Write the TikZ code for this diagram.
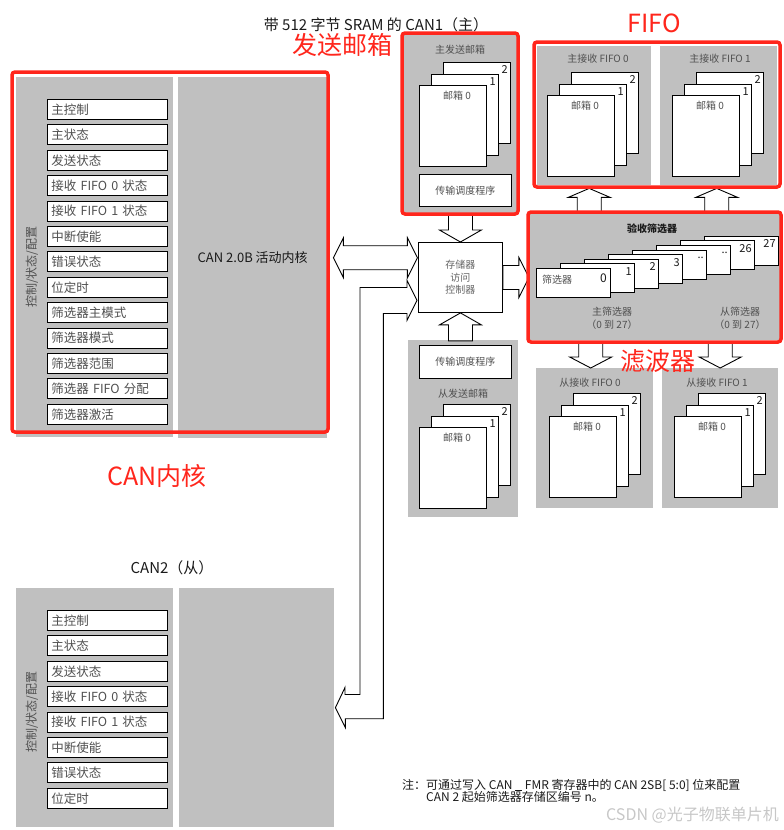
\documentclass[tikz,border=0pt]{standalone}
\usepackage{fontspec}
\setmainfont{Noto Sans CJK SC}
\usetikzlibrary{calc}
\definecolor{panelgray}{RGB}{192,192,192}
\definecolor{markred}{RGB}{255,38,28}
\definecolor{labelgray}{RGB}{80,80,80}
\definecolor{inkblack}{RGB}{26,26,26}
\newcommand{\fsz}[2]{\fontsize{#1}{#2}\selectfont}

\begin{document}
\begin{tikzpicture}[x=1pt, y=-1pt,
    panel/.style={fill=panelgray, anchor=north west, inner sep=0pt},
    reg/.style={draw, line width=0.9pt, fill=white, anchor=north west, text width=112pt, inner xsep=4pt, inner ysep=0pt, minimum height=20pt, align=left, text=labelgray, font=\fsz{12.5}{13}},
    mbox/.style={draw, line width=0.9pt, fill=white, anchor=north west, minimum width=67pt, minimum height=81pt, inner sep=0pt},
    card/.style={draw, line width=0.9pt, fill=white, anchor=north west, minimum width=74pt, minimum height=29pt, inner sep=0pt},
    hollow/.style={draw, line width=0.9pt, fill=white, line join=miter},
    redframe/.style={draw=markred, line width=3.5pt, rounded corners=3pt},
    redlabel/.style={text=markred, font=\fsz{25}{28}},
    lbl/.style={font=\fsz{10}{13}, text=labelgray, inner sep=1pt},
    digit/.style={font=\fsz{11}{12}, text=inkblack, anchor=east, inner sep=0pt}]
    \useasboundingbox (0,0) rectangle (784,830);

    % CAN1 (master)
    \node[font=\fsz{15}{16}, text=inkblack] (c1title) at (376,25) {带 512 字节 SRAM 的 CAN1（主）};
    \node[panel, minimum width=157pt, minimum height=360pt] (c1ctl) at (16,77) {};
    \node[panel, minimum width=149pt, minimum height=361pt, font=\fsz{13}{14}, text=inkblack] (c1core) at (178,77) {CAN 2.0B 活动内核};
    \node[rotate=90, font=\fsz{12}{13}, text=labelgray] (c1side) at (32,267) {控制/状态/配置};
    \foreach \t [count=\i from 0] in {主控制, 主状态, 发送状态, 接收 FIFO 0 状态, 接收 FIFO 1 状态, 中断使能, 错误状态, 位定时, 筛选器主模式, 筛选器模式, 筛选器范围, 筛选器 FIFO 分配, 筛选器激活}
        \node[reg] (c1r\i) at (47,{99+25.4*\i}) {\t};

    % mailbox and fifo panels
    \node[panel, minimum width=113pt, minimum height=178pt] (tmp) at (404,35) {};
    \node[lbl] (tmtitle) at (460,50) {主发送邮箱};
    \node[draw, line width=0.9pt, fill=white, anchor=north west, minimum width=92pt, minimum height=32pt, lbl] (tmsch) at (419,174) {传输调度程序};
    \node[panel, minimum width=114pt, minimum height=139pt] (rfp0) at (537,46) {};
    \node[panel, minimum width=117pt, minimum height=139pt] (rfp1) at (660,46) {};
    \node[lbl] (rf0title) at (598,59) {主接收 FIFO 0};
    \node[lbl] (rf1title) at (720,59) {主接收 FIFO 1};
    \node[panel, minimum width=110pt, minimum height=177pt] (tsp) at (408,340) {};
    \node[draw, line width=0.9pt, fill=white, anchor=north west, minimum width=92pt, minimum height=33pt, lbl] (tssch) at (419,345) {传输调度程序};
    \node[lbl] (tstitle) at (463,394) {从发送邮箱};
    \node[panel, minimum width=117pt, minimum height=140pt] (rsp0) at (536,368) {};
    \node[panel, minimum width=116pt, minimum height=140pt] (rsp1) at (662,368) {};
    \node[lbl] (rs0title) at (590,383) {从接收 FIFO 0};
    \node[lbl] (rs1title) at (717,383) {从接收 FIFO 1};

    \foreach \nm/\x/\y in {tm/419/85, rf0/547/95, rf1/672/95, ts/419/427, rs0/549/416, rs1/674/416} {
        \node[mbox] (\nm-b2) at ({\x+24},{\y-23}) {};
        \node[digit] at ([xshift=-3pt,yshift=-8pt]\nm-b2.north east) {2};
        \node[mbox] (\nm-b1) at ({\x+12},{\y-11}) {};
        \node[digit] at ([xshift=-3pt,yshift=-8pt]\nm-b1.north east) {1};
        \node[mbox] (\nm-b0) at (\x,\y) {};
        \node[lbl] at ([xshift=4pt,yshift=-11pt]\nm-b0.north) {邮箱 0};
    }

    % acceptance filter
    \node[panel, minimum width=250pt, minimum height=126pt] (filt) at (530,214) {};
    \node[font=\bfseries\fsz{10}{12}, text=inkblack] (filttitle) at (652,229) {验收筛选器};
    \foreach \i/\v in {7/27, 6/26, 5/.., 4/.., 3/3, 2/2, 1/1} {
        \node[card] (fc\i) at ({536+24*\i},{268-4.6*\i}) {};
        \node[digit] at ([xshift=-3pt,yshift=-8pt]fc\i.north east) {\v};
    }
    \node[card] (fc0) at (536,268) {};
    \node[lbl, anchor=west] at ([xshift=5pt,yshift=3pt]fc0.west) {筛选器};
    \node[digit, font=\fsz{12}{13}] at ([xshift=-4pt,yshift=-10pt]fc0.north east) {0};
    \node[lbl, align=center] (mfilt) at (612,318) {主筛选器\\（0 到 27）};
    \node[lbl, align=center] (sfilt) at (740,318) {从筛选器\\（0 到 27）};

    % memory access controller
    \node[draw, line width=0.9pt, fill=white, anchor=north west, minimum width=84pt, minimum height=70pt, align=center, font=\fsz{10}{12.5}, text=gray!80!black] (mac) at (418,242) {存储器\\访问\\控制器};

    % CAN2 (slave)
    \node[font=\fsz{15}{16}, text=inkblack] (c2title) at (172,568) {CAN2（从）};
    \node[panel, minimum width=157pt, minimum height=239pt] (c2ctl) at (16,588) {};
    \node[panel, minimum width=155pt, minimum height=239pt] (c2core) at (179,588) {};
    \node[rotate=90, font=\fsz{12}{13}, text=labelgray] (c2side) at (32,712) {控制/状态/配置};
    \foreach \t [count=\i from 0] in {主控制, 主状态, 发送状态, 接收 FIFO 0 状态, 接收 FIFO 1 状态, 中断使能, 错误状态, 位定时}
        \node[reg] (c2r\i) at (47,{610+25.4*\i}) {\t};

    % hollow arrows
    \draw[hollow] (mac.north) -- ++(21,-12) -- ++(-9,0) -- ++(0,-16) -- ++(-24,0) -- ++(0,16) -- ++(-9,0) -- cycle;
    \draw[hollow] (mac.south) -- ++(21,12) -- ++(-9,0) -- ++(0,16) -- ++(-24,0) -- ++(0,-16) -- ++(-9,0) -- cycle;
    \draw[hollow] ([yshift=12pt]mac.east) -- ++(16,0) -- ++(0,-8) -- ++(10,20) -- ++(-10,20) -- ++(0,-8) -- ++(-16,0) -- cycle;
    \draw[hollow] ([xshift=-5pt,yshift=-3pt]rfp0.south) -- ++(21,9) -- ++(-9,0) -- ++(0,16) -- ++(-24,0) -- ++(0,-16) -- ++(-9,0) -- cycle;
    \draw[hollow] ([xshift=-2pt,yshift=-3pt]rfp1.south) -- ++(21,9) -- ++(-9,0) -- ++(0,16) -- ++(-24,0) -- ++(0,-16) -- ++(-9,0) -- cycle;
    \draw[hollow] ([xshift=-4pt]rsp0.north) -- ++(21,-11) -- ++(-9,0) -- ++(0,-15) -- ++(-24,0) -- ++(0,15) -- ++(-9,0) -- cycle;
    \draw[hollow] ([xshift=0pt]rsp1.north) -- ++(21,-11) -- ++(-9,0) -- ++(0,-15) -- ++(-24,0) -- ++(0,15) -- ++(-9,0) -- cycle;
    \draw[hollow] ([xshift=6pt]c1core.east) -- ++(10,-20) -- ++(0,8) -- ++(64,0) -- ++(0,-8) -- ++(10,20) -- ++(-10,20) -- ++(0,-8) -- ++(-64,0) -- ++(0,8) -- cycle;
    \draw[hollow] ([xshift=-1pt,yshift=-23pt]mac.west) coordinate (ltip) -- ++(-10,-20) -- ++(0,7) -| ++(-47,407) -- ++(-15,0) -- ++(0,-7) -- ([xshift=1pt]c2core.east) -- ++(10,20) -- ++(0,-9) -- ++(38,0) |- ([xshift=-10pt,yshift=-13pt]ltip) -- ++(0,7) -- cycle;

    % note
    \node[anchor=north west, align=left, font=\fsz{12}{12.5}, text=inkblack, inner sep=0pt] (note) at (402,779) {注：可通过写入 CAN \rule[-1.5pt]{7pt}{0.7pt} FMR 寄存器中的 CAN 2SB[ 5:0] 位来配置\\\hspace*{24pt}CAN 2 起始筛选器存储区编号 n。};
    \node[anchor=east, font=\fsz{16}{17}, text=black!22, inner sep=0pt] (wm) at (779,815) {CSDN @光子物联单片机};

    % red marks
    \draw[redframe] (12,72) rectangle (328,432);
    \draw[redframe] (402,33) rectangle (518,214);
    \draw[redframe] (534,42) rectangle (780,187);
    \draw[redframe] (528,212) rectangle (781,342);
    \node[redlabel] (lblmb) at (342,45) {发送邮箱};
    \node[redlabel] (lblfifo) at (654,23) {FIFO};
    \node[redlabel] (lblflt) at (658,361) {滤波器};
    \node[redlabel] (lblcore) at (157,476) {CAN内核};
\end{tikzpicture}
\end{document}
